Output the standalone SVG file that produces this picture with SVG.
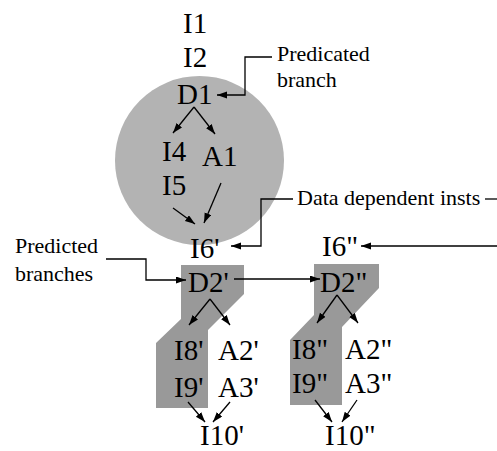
<svg xmlns="http://www.w3.org/2000/svg" width="497" height="451" viewBox="0 0 497 451">
  <style>
    text { font-family: "Liberation Serif", "DejaVu Serif", serif; fill: #000; }
    .big { font-size: 29px; }
    .lbl { font-size: 22px; }
    .ln { fill: none; stroke: #000; stroke-width: 1.3; }
    .arr { fill: none; stroke: #000; stroke-width: 1.3; marker-end: url(#head); }
    .region { fill: #b3b3b3; }
    .path { fill: #999999; }
  </style>
  <defs>
    <marker id="head" markerUnits="userSpaceOnUse" markerWidth="11" markerHeight="8" refX="10" refY="3.5" orient="auto">
      <path d="M0,0 L10,3.5 L0,7 Z" fill="#000"/>
    </marker>
  </defs>

  <!-- shaded regions -->
  <circle id="predicated-region" class="region" cx="199.5" cy="160.5" r="84.5"/>
  <polygon id="path-left" class="path" points="181,265 244,265 244,294 208,330 208,408 156,408 156,343 181,319"/>
  <polygon id="path-right" class="path" points="314,264 379,264 379,288 342,327 342,405 290,405 290,340 314,315"/>

  <!-- instruction nodes -->
  <g id="n-I1"><text class="big" x="183" y="33">I1</text></g>
  <g id="n-I2"><text class="big" x="183" y="67">I2</text></g>
  <g id="n-D1"><text class="big" x="177" y="104">D1</text></g>
  <g id="n-I4"><text class="big" x="162" y="161">I4</text></g>
  <g id="n-A1"><text class="big" x="202" y="166">A1</text></g>
  <g id="n-I5"><text class="big" x="162" y="195">I5</text></g>
  <g id="n-I6a"><text class="big" x="190" y="258">I6'</text></g>
  <g id="n-I6b"><text class="big" x="322" y="256">I6"</text></g>
  <g id="n-D2a"><text class="big" x="188" y="292">D2'</text></g>
  <g id="n-D2b"><text class="big" x="320" y="292">D2"</text></g>
  <g id="n-I8a"><text class="big" x="174" y="360">I8'</text></g>
  <g id="n-A2a"><text class="big" x="218" y="360">A2'</text></g>
  <g id="n-I9a"><text class="big" x="174" y="397">I9'</text></g>
  <g id="n-A3a"><text class="big" x="218" y="397">A3'</text></g>
  <g id="n-I8b"><text class="big" x="292" y="359">I8"</text></g>
  <g id="n-A2b"><text class="big" x="345" y="359">A2"</text></g>
  <g id="n-I9b"><text class="big" x="292" y="393">I9"</text></g>
  <g id="n-A3b"><text class="big" x="345" y="393">A3"</text></g>
  <g id="n-I10a"><text class="big" x="200" y="445">I10'</text></g>
  <g id="n-I10b"><text class="big" x="325" y="445">I10"</text></g>

  <!-- annotations -->
  <g id="note-predicated">
    <text class="lbl" x="277" y="61">Predicated</text>
    <text class="lbl" x="277" y="87">branch</text>
  </g>
  <g id="note-data">
    <text class="lbl" x="297" y="205">Data dependent insts</text>
  </g>
  <g id="note-predicted">
    <text class="lbl" x="15" y="253">Predicted</text>
    <text class="lbl" x="15" y="281">branches</text>
  </g>

  <!-- connectors -->
  <g id="connectors">
    <polyline class="arr" points="272,57 245,57 245,95 217,95"/>
    <polyline class="arr" points="293,199 261,199 261,246 231,246"/>
    <line class="ln" x1="485" y1="199" x2="497" y2="199"/>
    <line class="arr" x1="497" y1="246" x2="361" y2="246"/>
    <polyline class="arr" points="106,259 146,259 146,280 186,280"/>
    <line class="arr" x1="234" y1="279" x2="320" y2="279"/>

    <line class="arr" x1="194" y1="107" x2="173" y2="133"/>
    <line class="arr" x1="194" y1="107" x2="215" y2="134"/>
    <line class="arr" x1="173" y1="208" x2="195" y2="224"/>
    <line class="arr" x1="221" y1="183" x2="204" y2="223"/>

    <line class="arr" x1="210" y1="299" x2="189" y2="325"/>
    <line class="arr" x1="210" y1="299" x2="230" y2="325"/>
    <line class="arr" x1="337" y1="295" x2="317" y2="323"/>
    <line class="arr" x1="337" y1="295" x2="358" y2="323"/>

    <line class="arr" x1="188" y1="402" x2="205" y2="422"/>
    <line class="arr" x1="230" y1="402" x2="213" y2="422"/>
    <line class="arr" x1="315" y1="400" x2="332" y2="422"/>
    <line class="arr" x1="357" y1="400" x2="342" y2="422"/>
  </g>
</svg>
